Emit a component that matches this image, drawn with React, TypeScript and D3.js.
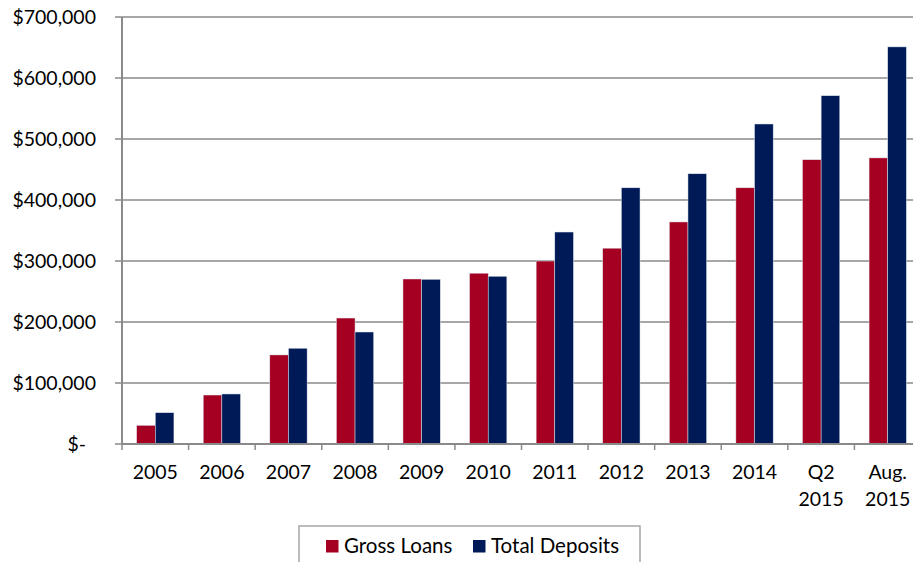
import React from "react";
import * as d3 from "d3";

const categories = ["2005", "2006", "2007", "2008", "2009", "2010", "2011", "2012", "2013", "2014", "Q2\n2015", "Aug.\n2015"];
const grossLoans = [30600, 80300, 146000, 206500, 270500, 280000, 300000, 321000, 364000, 420000, 466000, 469000];
const totalDeposits = [51300, 82000, 157000, 183600, 270000, 275000, 347500, 420000, 443000, 524600, 571000, 651000];
const yTicks = [0, 100000, 200000, 300000, 400000, 500000, 600000, 700000];
const seriesNames = ["Gross Loans", "Total Deposits"];
const colors = ["#A50021", "#001A57"];

const W = 913, H = 562;
const left = 122, right = 921, top = 17, bottom = 444;
const FONT = "Lato, 'Open Sans', sans-serif";

export default function App() {
  const x = d3.scaleBand<string>().domain(categories).range([left, right]).paddingInner(0).paddingOuter(0);
  const y = d3.scaleLinear().domain([0, 700000]).range([bottom, top]);
  const bw = x.bandwidth();
  const barW = bw * 0.28;
  const offset = bw * 0.22;
  const fmt = (v: number) => (v === 0 ? "$-" : "$" + d3.format(",")(v));
  const series = [grossLoans, totalDeposits];

  return (
    <svg width={W} height={H} style={{ position: "absolute", left: 0, top: 0, display: "block" }}>
      <rect x={0} y={0} width={W} height={H} fill="#fff" />
      {yTicks.map((t) => (
        <g key={t}>
          <line x1={left - 7} x2={right} y1={y(t)} y2={y(t)} stroke="#8a8a8a" strokeWidth={1.5} />
          <text
            x={t === 0 ? 86 : 96}
            y={y(t)}
            dy="0.36em"
            textAnchor="end"
            fontFamily={FONT}
            fontSize={19.5}
            fill="#000"
          >
            {fmt(t)}
          </text>
        </g>
      ))}
      {categories.map((c, i) => (
        <g key={c}>
          {series.map((s, j) => (
            <rect
              key={j}
              x={(x(c) as number) + offset + j * barW}
              y={y(s[i])}
              width={barW}
              height={y(0) - y(s[i])}
              fill={colors[j]}
              stroke="#dde3ee"
              strokeWidth={0.5}
            />
          ))}
        </g>
      ))}
      <line x1={left} x2={left} y1={top} y2={bottom} stroke="#8a8a8a" strokeWidth={2} />
      <line x1={left} x2={right} y1={bottom} y2={bottom} stroke="#8a8a8a" strokeWidth={2} />
      {categories.map((c, i) => (
        <line key={"t" + i} x1={(x(c) as number)} x2={(x(c) as number)} y1={bottom} y2={bottom + 6} stroke="#8a8a8a" strokeWidth={1.5} />
      ))}
      {categories.map((c) => {
        const lines = c.split("\n");
        const cx = (x(c) as number) + bw / 2;
        return (
          <text key={"l" + c} x={cx} y={479} textAnchor="middle" fontFamily={FONT} fontSize={19.5} fill="#000">
            {lines.map((ln, k) => (
              <tspan key={k} x={cx} dy={k === 0 ? 0 : 26.5}>
                {ln}
              </tspan>
            ))}
          </text>
        );
      })}
      <rect x={299} y={526} width={341} height={50} fill="#fff" stroke="#a6a6a6" strokeWidth={1.5} />
      {seriesNames.map((n, j) => {
        const sx = j === 0 ? 326 : 473;
        return (
          <g key={n}>
            <rect x={sx} y={540} width={12.5} height={12.5} fill={colors[j]} />
            <text x={sx + 18} y={552.5} fontFamily={FONT} fontSize={20.5} fill="#000">
              {n}
            </text>
          </g>
        );
      })}
    </svg>
  );
}
